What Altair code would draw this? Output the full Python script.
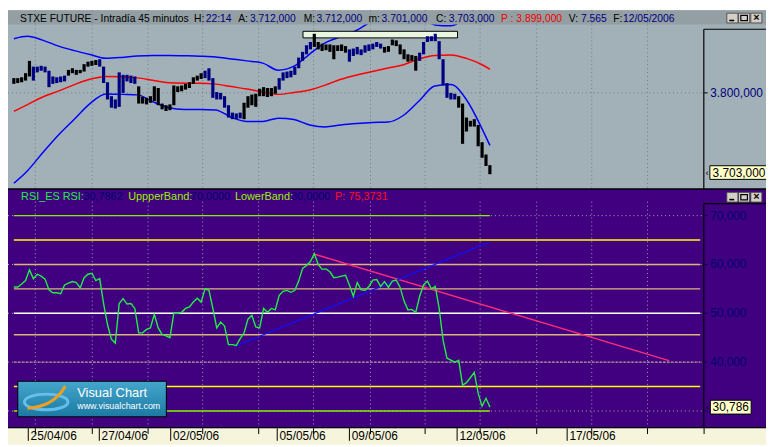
import altair as alt
import pandas as pd

# ---------------- data ----------------
# 45-minute bars, STXE future, one entry per bar
price_high = [3818, 3818, 3819, 3824, 3839, 3832, 3832, 3833, 3832, 3827,
              3820, 3819, 3820, 3821, 3828, 3830, 3828, 3828, 3835, 3838,
              3839, 3840, 3841, 3832, 3813, 3796, 3792, 3825, 3822, 3822,
              3821, 3820, 3808, 3795, 3794, 3796, 3808, 3806, 3787, 3785,
              3786, 3809, 3808, 3809, 3811, 3813, 3819, 3821, 3824, 3827,
              3830, 3818, 3801, 3800, 3796, 3785, 3776, 3775, 3776, 3788,
              3796, 3798, 3799, 3805, 3807, 3806, 3806, 3808, 3818, 3825,
              3826, 3827, 3832, 3843, 3850, 3858, 3862, 3872, 3862, 3860,
              3859, 3859, 3858, 3858, 3859, 3857, 3853, 3854, 3856, 3853,
              3858, 3859, 3860, 3862, 3860, 3856, 3857, 3865, 3864, 3859,
              3853, 3847, 3846, 3845, 3849, 3862, 3869, 3869, 3872, 3863,
              3841, 3812, 3800, 3799, 3796, 3787, 3770, 3766, 3768, 3761,
              3740, 3725, 3712]
price_low = [3811, 3812, 3813, 3815, 3820, 3815, 3825, 3827, 3825, 3807,
             3811, 3812, 3813, 3814, 3821, 3824, 3822, 3824, 3826, 3832,
             3833, 3834, 3832, 3812, 3792, 3782, 3781, 3783, 3800, 3814,
             3812, 3811, 3787, 3787, 3786, 3788, 3790, 3785, 3780, 3778,
             3779, 3785, 3801, 3802, 3804, 3806, 3811, 3815, 3817, 3818,
             3815, 3794, 3792, 3792, 3782, 3770, 3768, 3768, 3769, 3768,
             3782, 3785, 3783, 3796, 3796, 3795, 3796, 3799, 3804, 3815,
             3818, 3819, 3822, 3830, 3839, 3847, 3853, 3856, 3853, 3851,
             3852, 3850, 3841, 3851, 3851, 3849, 3838, 3845, 3847, 3846,
             3849, 3851, 3853, 3856, 3854, 3849, 3850, 3858, 3857, 3847,
             3841, 3838, 3839, 3827, 3839, 3847, 3862, 3863, 3863, 3841,
             3809, 3794, 3792, 3792, 3782, 3738, 3753, 3759, 3759, 3735,
             3721, 3711, 3701]
# runs of bars drawn in navy (first, last bar index)
blue_runs = [(5, 13), (22, 31), (49, 58), (68, 76), (86, 94), (104, 113)]

# Bollinger bands, read every few bars
bb_idx = [0, 3.5, 7.5, 11.5, 15.5, 19.5, 23.6, 27.6, 31.6, 35.6, 39.6, 43.7,
          47.7, 51.7, 55.7, 59.7, 63.8, 67.8, 71.8, 75.8, 79.8, 83.8, 87.9,
          91.9, 95.9, 99.9, 103.9, 107.9, 112, 116, 120, 122]
bb_upper = [3866, 3869, 3864, 3857, 3851.5, 3846.7, 3842.2, 3843.2, 3845, 3845.6,
            3845.6, 3845.2, 3844.7, 3843.8, 3841.4, 3839, 3836.3, 3827.6, 3832.5,
            3847.3, 3861, 3868.6, 3876.3, 3887.6, 3895.9, 3895.9, 3892.3, 3882.8,
            3881.7, 3892.3, 3912.4, 3921.9]
bb_mid = [3777.5, 3785.8, 3795.3, 3802.4, 3810.1, 3816.6, 3820.1, 3819.8, 3818.3,
          3815.4, 3812.4, 3811.8, 3811.8, 3810.7, 3807.7, 3804.7, 3801.2, 3798.2,
          3800.6, 3803.6, 3809.5, 3816.6, 3821.9, 3826, 3830.2, 3834.3, 3841.4,
          3845.6, 3846.2, 3842, 3834.3, 3828.8]
bb_lower = [3690, 3705.3, 3727.8, 3749.1, 3768, 3787, 3798.8, 3798.2, 3797.6,
            3789.3, 3782.2, 3779.9, 3779.9, 3779.3, 3770.4, 3765.1, 3765.3, 3769.2,
            3767.5, 3761, 3758.6, 3761, 3762.7, 3763.9, 3764.5, 3772.8, 3790.5,
            3808.3, 3810.1, 3791.7, 3756.2, 3736.1]

# RSI, one value per bar
rsi = [55.4, 55.4, 56, 56.7, 58.9, 57.1, 58, 57.6, 57, 54.8,
       54.2, 54.2, 54, 55.8, 56.2, 56.5, 56.3, 55.2, 57.3, 58,
       58.2, 56.7, 57.1, 52, 47.7, 44.7, 43.9, 52, 53, 51.9,
       52, 51, 46, 46, 46.7, 47, 49.8, 47, 45.7, 45.4,
       45, 50, 50, 50.2, 51, 51.3, 52.3, 53.1, 52.3, 55,
       54.7, 51, 47, 48.2, 47.4, 43.6, 43.6, 43.4, 44.8, 46,
       48.8, 49.6, 47.2, 47, 51, 50.2, 51, 50.7, 53.7, 54.5,
       54.7, 54.3, 54.7, 56.6, 59.2, 59.8, 60.6, 62.2, 60, 59,
       59.1, 58.5, 57.3, 57.4, 57.6, 57.8, 55.8, 53.5, 56.3, 54.8,
       54.7, 55.5, 56.8, 56.9, 55.5, 56.5, 55.3, 56.6, 56.8, 55.3,
       52.5, 50.7, 50.8, 50.2, 53.5, 55.8, 56.6, 55, 55.5, 51,
       44.5, 40.8, 40.4, 40, 40.4, 35.3, 35.8, 36.8, 37.9, 33.6,
       31, 32.6, 30.79]

band_levels = [70, 30]                       # Upper / Lower band of the indicator
ref_levels = [65, 60, 55, 50, 45.6, 40, 35]  # horizontal guide lines
rsi_ticks = [70, 60, 50, 40, 30]
rsi_tick_labels = ["70,000", "60,000", "50,000", "40,000", "30,000"]
price_ticks = [3800]
price_tick_labels = ["3.800,000"]
last_close = 3703
last_close_label = "3.703,000"
last_rsi = 30.786
last_rsi_label = "30,786"

# trend lines on the RSI pane (bar index, value)
pink_trend_i = [76.7, 167.9]
pink_trend_v = [62.2, 40.3]
blue_trend_i = [56.6, 121.9]
blue_trend_v = [43.2, 64.6]

# annotation box on the price pane
note_i = [74.1, 113.7]
note_p = [3867, 3875]

date_pos = [3.7, 21.9, 40.2, 67.5, 86.0, 113.6, 141.8]
date_labels = ["25/04/06", "27/04/06", "02/05/06", "05/05/06", "09/05/06",
               "12/05/06", "17/05/06"]
grid_pos = [5.5, 20.1, 34.4, 48.4, 62.75, 76.8, 91.4, 105.4, 119.5, 134.0,
            148.1, 162.4]

title_parts = ["STXE FUTURE - Intradía 45 minutos", "H:", "22:14", "A:", "3.712,000",
               "M:", "3.712,000", "m:", "3.701,000", "C:", "3.703,000",
               "P : 3.899,000", "V:", "7.565", "F:", "12/05/2006"]
rsi_legend_parts = ["RSI_ES RSI:", "30,7862", "UppperBand:", "70,0000",
                    "LowerBand:", "30,0000", "P: 75,3731"]

# ---------------- layout / style ----------------
W, H = 766, 439
SX, SY = 766 / 774, 439 / 447
FONT = "Liberation Sans"


def px(x):
    return round(x * SX, 2)


def py(y):
    return round(y * SY, 2)


TOP_BG = "#a2b1b8"
TITLE_BG = "#939fa3"
PURPLE = "#400080"
CREAM = "#f6f4da"
NAVY = "#000080"

title_x = [12.3, 190, 202, 235, 247, 302, 315, 368, 381.5, 437, 450, 503.5,
           572.5, 585, 618, 628]
title_col = ["#000000", "#000000", NAVY, "#000000", NAVY, "#000000", NAVY,
             "#000000", NAVY, "#000000", NAVY, "#ee0000", "#000000", NAVY,
             "#000000", NAVY]
legend_x = [13.3, 77, 122.7, 186.7, 231.7, 289, 334]
legend_col = ["#22ee44", "#000070", "#99f000", "#000070", "#99f000", "#000070",
              "#ff1010"]
level_col = {65: "#ffff00", 60: "#d8b878", 55: "#d8b878", 50: "#ffffff",
             45.6: "#d8b878", 40: "#c8b08c", 35: "#ffff00"}

dummy = pd.DataFrame({"d": [0]})

XS = alt.Scale(domain=[-1.5, 176.7], range=[0, px(710)], nice=False, zero=False)
YP = alt.Scale(domain=[3700, 3900], range=[py(169.5), py(0.5)], nice=False, zero=False)
YR = alt.Scale(domain=[30, 70], range=[py(412.3), py(211.3)], nice=False, zero=False)


def box(x1, x2, y1, y2, fill, stroke=None, sw=1):
    kw = dict(fill=fill, opacity=1)
    if stroke:
        kw.update(stroke=stroke, strokeWidth=sw)
    else:
        kw.update(strokeWidth=0)
    return alt.Chart(dummy).mark_rect(**kw).encode(
        x=alt.value(px(x1)), x2=alt.value(px(x2)),
        y=alt.value(py(y1)), y2=alt.value(py(y2)))


def hline(x1, x2, y, color, sw=1.0, dash=None):
    kw = dict(color=color, strokeWidth=sw)
    if dash:
        kw["strokeDash"] = dash
    return alt.Chart(dummy).mark_rule(**kw).encode(
        x=alt.value(px(x1)), x2=alt.value(px(x2)), y=alt.value(py(y)))


def vline(x, y1, y2, color, sw=1.0, dash=None):
    kw = dict(color=color, strokeWidth=sw)
    if dash:
        kw["strokeDash"] = dash
    return alt.Chart(dummy).mark_rule(**kw).encode(
        x=alt.value(px(x)), y=alt.value(py(y1)), y2=alt.value(py(y2)))


def label(x, y, text, color, size=11, align="left", weight="normal"):
    return alt.Chart(dummy).mark_text(
        text=text, color=color, fontSize=size, align=align, baseline="middle",
        font=FONT, fontWeight=weight).encode(x=alt.value(px(x)), y=alt.value(py(y)))


layers = []

# panel backgrounds
layers += [box(0, 774, 0, 184, TOP_BG), box(0, 774, 184, 430, PURPLE),
           box(0, 774, 430, 447, CREAM)]

# ---- grid ----
grid_df = pd.DataFrame({"g": grid_pos})
layers.append(alt.Chart(grid_df).mark_rule(color="#6e7c82", strokeWidth=1, strokeDash=[1, 3]).encode(
    x=alt.X("g:Q", scale=XS, axis=None), y=alt.value(py(14.7)), y2=alt.value(py(183))))
layers.append(alt.Chart(grid_df).mark_rule(color="#a89cc0", strokeWidth=1, strokeDash=[1, 3]).encode(
    x=alt.X("g:Q", scale=XS, axis=None), y=alt.value(py(197)), y2=alt.value(py(429))))
pt_df = pd.DataFrame({"v": price_ticks, "t": price_tick_labels})
layers.append(alt.Chart(pt_df).mark_rule(color="#6e7c82", strokeWidth=1, strokeDash=[1, 3]).encode(
    y=alt.Y("v:Q", scale=YP, axis=None), x=alt.value(0), x2=alt.value(px(710))))
rt_df = pd.DataFrame({"v": rsi_ticks, "t": rsi_tick_labels})
layers.append(alt.Chart(rt_df).mark_rule(color="#b0a898", strokeWidth=1, strokeDash=[1, 3]).encode(
    y=alt.Y("v:Q", scale=YR, axis=None), x=alt.value(0), x2=alt.value(px(710))))

# ---- RSI pane ----
for lv in ref_levels:
    d = pd.DataFrame({"v": [lv], "i0": [0], "i1": [175.9]})
    kw = dict(color=level_col[lv], strokeWidth=1.4)
    if lv == 40:
        kw["strokeDash"] = [2, 2]
    layers.append(alt.Chart(d).mark_rule(**kw).encode(
        x=alt.X("i0:Q", scale=XS, axis=None), x2="i1:Q",
        y=alt.Y("v:Q", scale=YR, axis=None)))
band_df = pd.DataFrame({"v": band_levels, "i0": [0, 0], "i1": [len(rsi) - 1] * 2})
layers.append(alt.Chart(band_df).mark_rule(color="#80f000", strokeWidth=1.4).encode(
    x=alt.X("i0:Q", scale=XS, axis=None), x2="i1:Q",
    y=alt.Y("v:Q", scale=YR, axis=None)))

pink_df = pd.DataFrame({"i": pink_trend_i, "v": pink_trend_v})
layers.append(alt.Chart(pink_df).mark_line(color="#ff2a7a", strokeWidth=1.4).encode(
    x=alt.X("i:Q", scale=XS, axis=None), y=alt.Y("v:Q", scale=YR, axis=None)))
blue_df = pd.DataFrame({"i": blue_trend_i, "v": blue_trend_v})
layers.append(alt.Chart(blue_df).mark_line(color="#1010ff", strokeWidth=1.3).encode(
    x=alt.X("i:Q", scale=XS, axis=None), y=alt.Y("v:Q", scale=YR, axis=None)))

rsi_df = pd.DataFrame({"i": list(range(len(rsi))), "v": rsi})
layers.append(alt.Chart(rsi_df).mark_line(color="#22ee44", strokeWidth=1.4).encode(
    x=alt.X("i:Q", scale=XS, axis=None), y=alt.Y("v:Q", scale=YR, axis=None)))

# ---- price pane: Bollinger bands in one layer ----
bb_long = pd.DataFrame({
    "i": bb_idx * 3,
    "p": bb_upper + bb_mid + bb_lower,
    "band": ["upper"] * len(bb_idx) + ["mid"] * len(bb_idx) + ["lower"] * len(bb_idx),
})
layers.append(alt.Chart(bb_long).mark_line(strokeWidth=1.5, clip=True,
                                           interpolate="monotone").encode(
    x=alt.X("i:Q", scale=XS, axis=None),
    y=alt.Y("p:Q", scale=YP, axis=None),
    detail="band:N",
    color=alt.Color("band:N", scale=alt.Scale(domain=["upper", "mid", "lower"],
                                              range=["#0000ff", "#ff0000", "#0000ff"]),
                    legend=None)))

note_df = pd.DataFrame({"i0": [note_i[0]], "i1": [note_i[1]], "p0": [note_p[0]], "p1": [note_p[1]]})
layers.append(alt.Chart(note_df).mark_rect(fill="#e8f6e2", stroke="#000000", strokeWidth=1).encode(
    x=alt.X("i0:Q", scale=XS, axis=None), x2="i1:Q",
    y=alt.Y("p0:Q", scale=YP, axis=None), y2="p1:Q"))

bars = pd.DataFrame({"i": list(range(len(price_high))), "hi": price_high, "lo": price_low})
bars["c"] = "k"
for a, b in blue_runs:
    bars.loc[a:b, "c"] = "b"
layers.append(alt.Chart(bars).mark_rule(strokeWidth=3.2).encode(
    x=alt.X("i:Q", scale=XS, axis=None),
    y=alt.Y("lo:Q", scale=YP, axis=None), y2="hi:Q",
    color=alt.Color("c:N", scale=alt.Scale(domain=["k", "b"], range=["#000000", "#000080"]),
                    legend=None)))

# title bar on top of the price pane
layers.append(box(0, 774, 0, 14.7, TITLE_BG))
layers.append(alt.Chart(grid_df).mark_rule(color="#6e7c82", strokeWidth=1, strokeDash=[1, 3]).encode(
    x=alt.X("g:Q", scale=XS, axis=None), y=alt.value(0), y2=alt.value(py(14.7))))

# frame lines
layers += [hline(0, 774, 184, "#000000", 1.5), hline(0, 774, 429.5, "#000000", 1.2),
           vline(710.5, 19.5, 184, "#000000", 1.2), hline(710.5, 774, 19.5, "#000000", 1.2),
           vline(710.5, 199, 430, "#000000", 1.2), hline(710.5, 774, 199, "#000000", 1.2)]

# right axis ticks + labels
layers.append(alt.Chart(pt_df).mark_rule(color="#000000", strokeWidth=1).encode(
    y=alt.Y("v:Q", scale=YP, axis=None), x=alt.value(px(710.5)), x2=alt.value(px(714.5))))
layers.append(alt.Chart(pt_df).mark_text(align="left", baseline="middle", font=FONT,
                                         fontSize=12, color=NAVY).encode(
    y=alt.Y("v:Q", scale=YP, axis=None), x=alt.value(px(717)), text="t:N"))
layers.append(alt.Chart(rt_df).mark_rule(color="#000060", strokeWidth=1).encode(
    y=alt.Y("v:Q", scale=YR, axis=None), x=alt.value(px(710.5)), x2=alt.value(px(714.5))))
layers.append(alt.Chart(rt_df).mark_text(align="left", baseline="middle", font=FONT,
                                         fontSize=12, color="#000070").encode(
    y=alt.Y("v:Q", scale=YR, axis=None), x=alt.value(px(717)), text="t:N"))

# last-value boxes
lc_df = pd.DataFrame({"v": [last_close], "t": [last_close_label]})
layers.append(alt.Chart(lc_df).mark_point(
    shape="M -1 -0.23 H 1 V 0.23 H -1 Z", size=3600, filled=True, fill="#ffffc8",
    stroke="#000000", strokeWidth=1, opacity=1).encode(
    y=alt.Y("v:Q", scale=YP, axis=None), x=alt.value(px(747))))
layers.append(alt.Chart(lc_df).mark_text(align="left", baseline="middle", font=FONT,
                                         fontSize=12, color="#000000").encode(
    y=alt.Y("v:Q", scale=YP, axis=None), x=alt.value(px(719.5)), text="t:N"))
lr_df = pd.DataFrame({"v": [last_rsi], "t": [last_rsi_label]})
layers.append(alt.Chart(lr_df).mark_point(
    shape="M -1 -0.34 H 1 V 0.34 H -1 Z", size=1700, filled=True, fill="#ffffc8",
    stroke="#000000", strokeWidth=1, opacity=1).encode(
    y=alt.Y("v:Q", scale=YR, axis=None), x=alt.value(px(738))))
layers.append(alt.Chart(lr_df).mark_text(align="left", baseline="middle", font=FONT,
                                         fontSize=12, color="#000000").encode(
    y=alt.Y("v:Q", scale=YR, axis=None), x=alt.value(px(719.5)), text="t:N"))
for df_, sc in [(lc_df, YP), (lr_df, YR)]:
    layers.append(alt.Chart(df_).mark_text(text="‹", align="center", baseline="middle",
                                           font=FONT, fontSize=10, color="#000000").encode(
        y=alt.Y("v:Q", scale=sc, axis=None), x=alt.value(px(714))))

# date axis
dp_df = pd.DataFrame({"i": date_pos, "t": date_labels})
layers.append(alt.Chart(dp_df).mark_rule(color="#000000", strokeWidth=1).encode(
    x=alt.X("i:Q", scale=XS, axis=None), y=alt.value(py(430)), y2=alt.value(py(443))))
layers.append(alt.Chart(grid_df).mark_rule(color="#000000", strokeWidth=1).encode(
    x=alt.X("g:Q", scale=XS, axis=None), y=alt.value(py(430)), y2=alt.value(py(436))))
layers.append(alt.Chart(dp_df).mark_text(align="left", baseline="middle", font=FONT,
                                         fontSize=12, dx=2.3, color="#000000").encode(
    x=alt.X("i:Q", scale=XS, axis=None), y=alt.value(py(438.5)), text="t:N"))
layers.append(vline(710.8, 430, 436, "#000000", 1))

# title texts and legend texts
for x, t, c in zip(title_x, title_parts, title_col):
    layers.append(label(x, 9.3, t, c, 10.4))
for x, t, c in zip(legend_x, rsi_legend_parts, legend_col):
    layers.append(label(x, 191.7, t, c, 11))

# window buttons
for ytop in [3, 187.3]:
    for x0 in [734, 746, 758.5]:
        layers.append(box(x0, x0 + 11.3, ytop, ytop + 10, "#d4d0c8", "#404040", 0.8))
    layers.append(hline(736.5, 741.5, ytop + 7.5, "#000000", 1.6))
    layers.append(box(748.3, 755, ytop + 2.3, ytop + 7.7, "#d4d0c8", "#000000", 1.2))
    layers.append(label(764.2, ytop + 5.3, "×", "#000000", 11, "center", "bold"))

# Visual Chart logo
layers.append(alt.Chart(dummy).mark_rect(
    fill=alt.Gradient(gradient="linear",
                      stops=[alt.GradientStop(color="#45a6cc", offset=0),
                             alt.GradientStop(color="#1c7aa2", offset=1)],
                      x1=0, x2=0, y1=0, y2=1),
    stroke="#000000", strokeWidth=1).encode(
    x=alt.value(px(10)), x2=alt.value(px(161.7)), y=alt.value(py(381.7)), y2=alt.value(py(418.3))))
layers.append(alt.Chart(dummy).mark_point(
    shape="M -1 0 A 1 0.36 0 1 1 1 0 A 1 0.36 0 1 1 -1 0", size=1936, filled=False,
    stroke="#6cc4f0", strokeWidth=3, opacity=0.9).encode(x=alt.value(px(39)), y=alt.value(py(403))))
layers.append(alt.Chart(dummy).mark_point(
    shape="M -0.86 0.51 Q 0.35 0.45 0.88 -0.51", size=1936, filled=False,
    stroke="#f0a020", strokeWidth=3, opacity=1).encode(x=alt.value(px(39)), y=alt.value(py(398))))
layers.append(label(70.7, 393.7, "Visual Chart", "#ffffff", 13))
layers.append(label(70.7, 407, "www.visualchart.com", "#ffffff", 9))

chart = alt.layer(*layers).resolve_scale(y="independent", color="independent").properties(
    width=W, height=H, autosize=alt.AutoSizeParams(type="none"), padding=0,
    background="#ffffff").configure_view(strokeWidth=0)

chart.save("out.html", embed_options={"renderer": "svg", "actions": False})
